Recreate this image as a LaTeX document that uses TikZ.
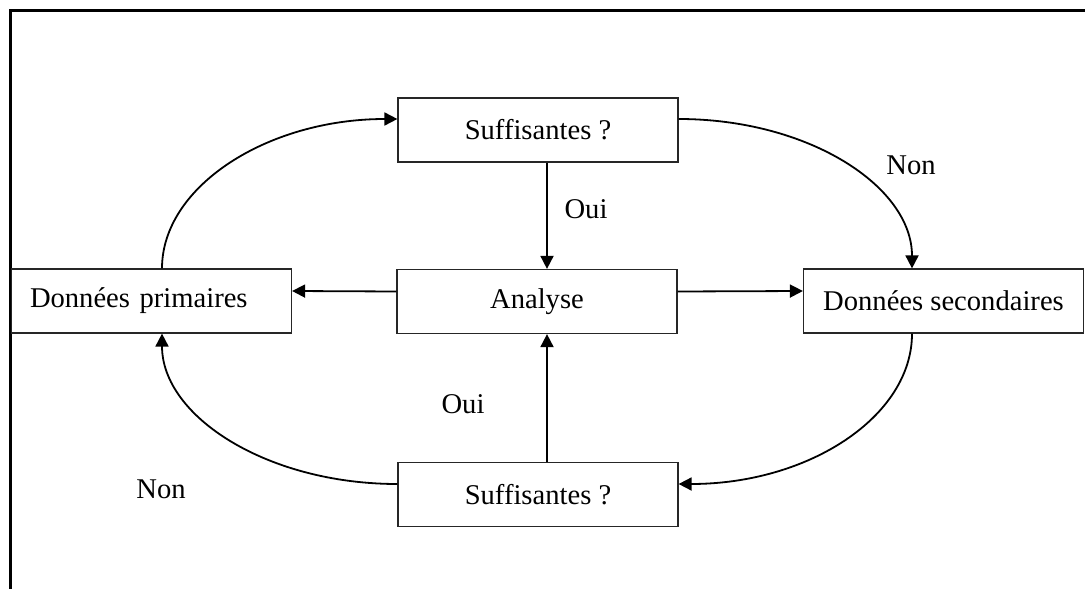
\documentclass[tikz,border=0pt]{standalone}
\usepackage{fontspec}
\setmainfont{Liberation Serif}
\usetikzlibrary{arrows.meta}
\begin{document}
\begin{tikzpicture}[x=0.5pt,y=-0.5pt,
  box/.style={draw=black!85,line width=0.6pt,minimum width=140pt,minimum height=32pt,inner sep=0pt,font=\fontsize{14.3}{17}\selectfont},
  arr/.style={line width=0.9pt,-{Triangle[length=6.5pt,width=6.5pt]}},
  lbl/.style={font=\fontsize{14.3}{17}\selectfont,inner sep=0pt}]
\useasboundingbox (0,0) rectangle (1085,588);
\draw[line width=1.5pt] (10,590) -- (10,11) -- (1087,11);

\node[box] (ts) at (538,130) {Suffisantes ?};
\node[box] (an) at (537,301.5) {Analyse};
\node[box,text width=121.5pt,inner xsep=9pt,align=left] (dp) at (151.5,301) {Données primaires};
\node[box] (ds) at (943.5,301) {Données secondaires};
\node[box] (bs) at (538,494.5) {Suffisantes ?};

\draw[arr] ([yshift=5pt]an.west) -- ([yshift=5pt]dp.east);
\draw[arr] ([yshift=5pt]an.east) -- ([yshift=5pt]ds.west);
\draw[arr] ([xshift=4.5pt]ts.south) -- ([xshift=5pt]an.north);
\draw[arr] ([xshift=4.5pt]bs.north) -- ([xshift=5pt]an.south);

\draw[arr] ([xshift=5.25pt]dp.north) .. controls +(0,-82) and +(-130,0) .. ([yshift=5.5pt]ts.west);
\draw[arr] ([yshift=5.5pt]ts.east) .. controls +(130,0) and +(0,-82) .. ([xshift=-15.75pt]ds.north);
\draw[arr] ([xshift=-15.75pt]ds.south) .. controls +(0,83) and +(130,0) .. ([yshift=5.25pt]bs.east);
\draw[arr] ([yshift=5.25pt]bs.west) .. controls +(-130,0) and +(0,83) .. ([xshift=5.25pt]dp.south);

\node[lbl] (non1) at (911,165) {Non};
\node[lbl] (oui1) at (586,209) {Oui};
\node[lbl] (oui2) at (463,404) {Oui};
\node[lbl] (non2) at (161,489) {Non};
\end{tikzpicture}
\end{document}
